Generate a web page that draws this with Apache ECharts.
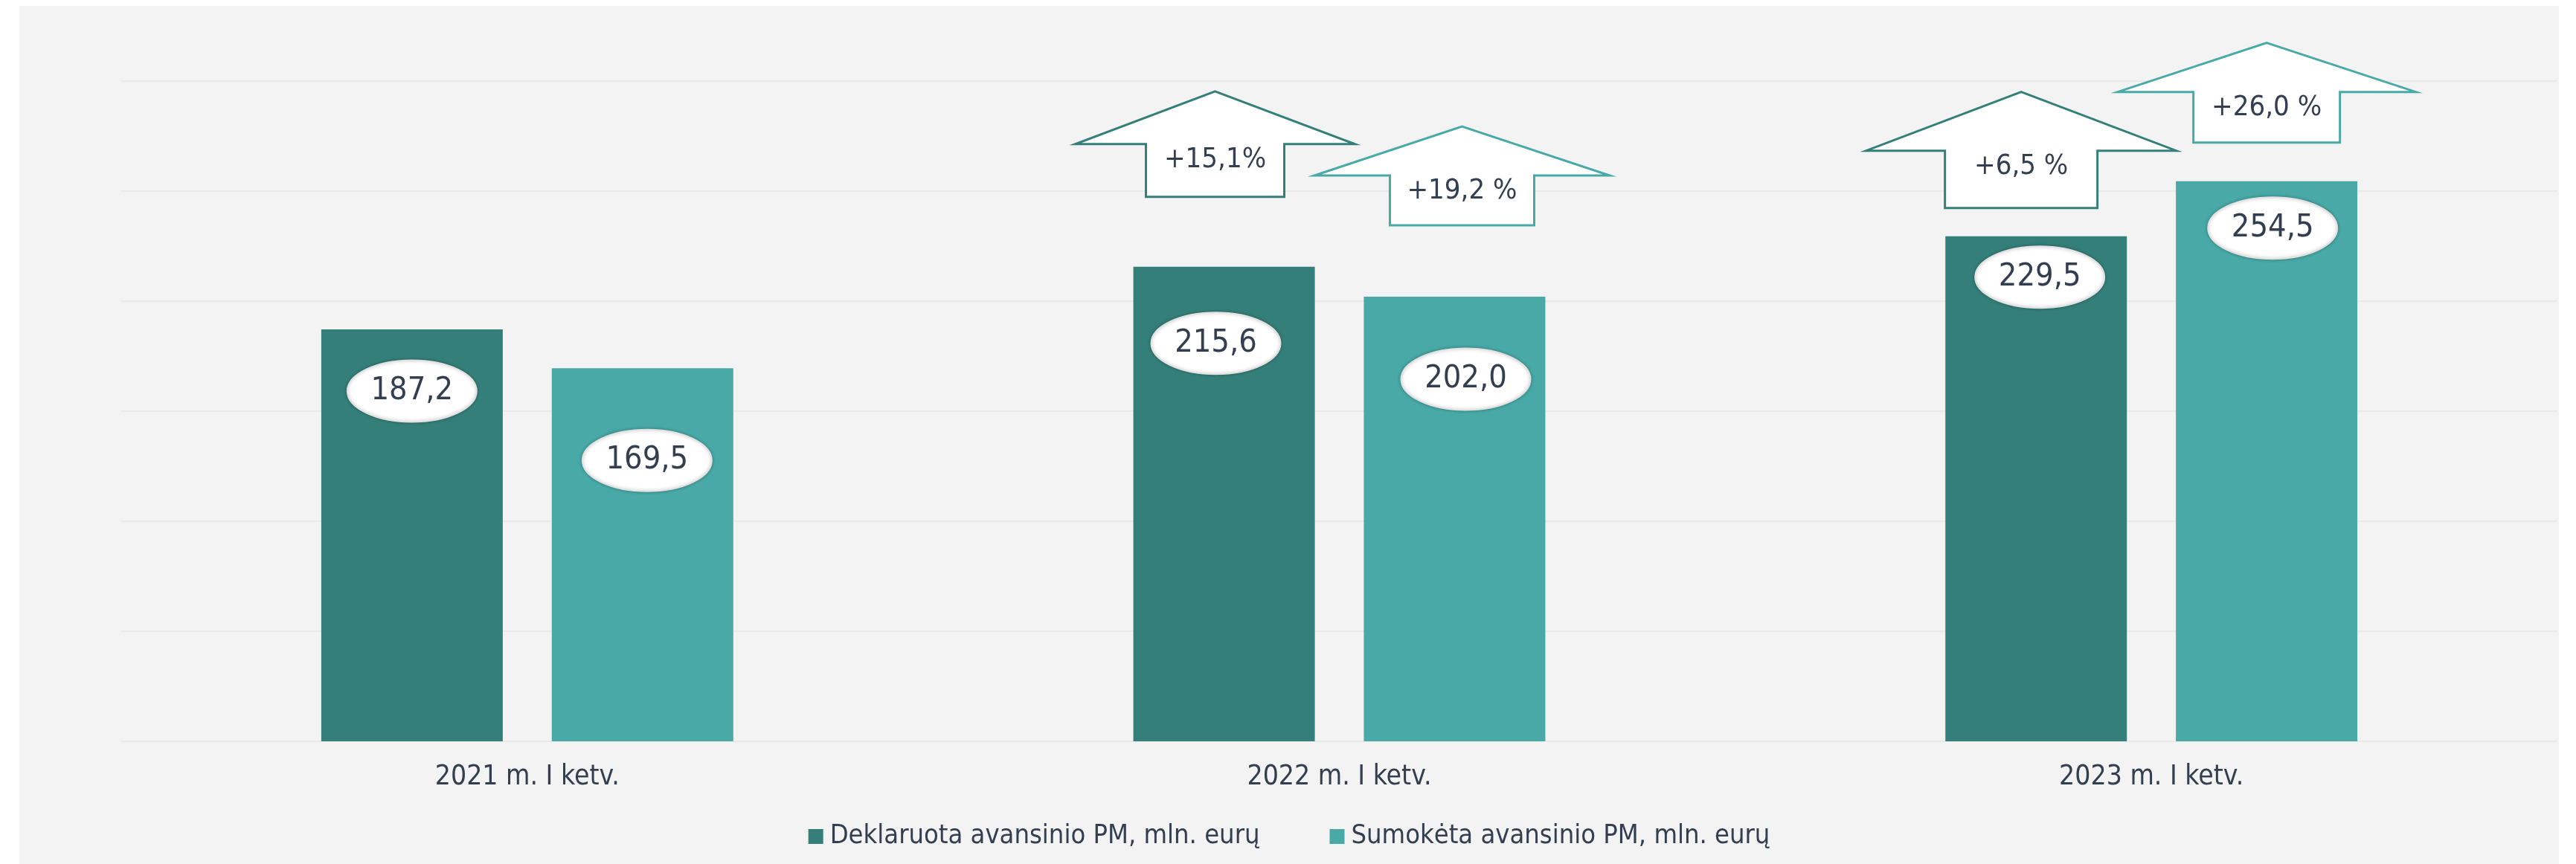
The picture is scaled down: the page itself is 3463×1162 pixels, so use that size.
<!DOCTYPE html>
<html>
<head>
<meta charset="utf-8">
<script src="https://cdn.jsdelivr.net/npm/echarts@6/dist/echarts.min.js"></script>
<style>
  html, body { margin: 0; padding: 0; background: #ffffff; }
  #chart { position: absolute; left: 26px; top: 8px; width: 3414px; height: 1154px; background: #f3f3f3; }
</style>
</head>
<body>
<div id="chart"></div>
<script>
// duomenys
const categories = ["2021 m. I ketv.", "2022 m. I ketv.", "2023 m. I ketv."]
const declared = [187.2, 215.6, 229.5]
const paid = [169.5, 202.0, 254.5]
const declaredGrowth = [null, "+15,1%", "+6,5 %"]
const paidGrowth = [null, "+19,2 %", "+26,0 %"]
const seriesNames = ["Deklaruota avansinio PM, mln. eurų", "Sumokėta avansinio PM, mln. eurų"]

// spalvos ir išdėstymas
const colors = ["#357f7a", "#48a9a7"]
const textColor = "#333f50"
const font = "'DejaVu Sans Condensed', 'DejaVu Sans', sans-serif"
const BAR_W = 244
const BAR_GAP = 66
// elipsės centras nuo stulpelio viršaus: [dx, dy]
const labelShift = [
  [[0, 83], [-11, 103], [5, 55]],
  [[6, 124], [15, 111], [8, 63]],
]
// rodyklės: [dx, pakilimas virš stulpelio, plotis, smaigalio aukštis, koto aukštis, koto plotis]
const arrowShape = [
  [null, [-12, 94, 376, 71, 71, 186], [-20, 38, 417, 79, 77, 205]],
  [null, [10, 96, 397, 66, 67, 194], [0, 52, 401, 66, 68, 197]],
]

const fmt = (v) => v.toFixed(1).replace(".", ",")

function barCenter(api, s) {
  const p = api.coord([api.value(0), api.value(1)])
  const off = (BAR_W + BAR_GAP) / 2
  return [p[0] + (s === 0 ? -off : off), p[1]]
}

// elipsė su reikšme
function ellipseSeries(s, values) {
  return {
    type: "custom",
    name: "lbl" + s,
    coordinateSystem: "cartesian2d",
    clip: false,
    z: 5,
    encode: { x: 0, y: 1 },
    data: values.map((v, i) => [i, v]),
    renderItem(params, api) {
      const i = api.value(0)
      const c = barCenter(api, s)
      const sh = labelShift[s][i]
      const x = c[0] + sh[0]
      const y = c[1] + sh[1]
      return {
        type: "group",
        children: [
          {
            type: "ellipse",
            shape: { cx: x, cy: y, rx: 87, ry: 41.5 },
            style: {
              fill: "#ffffff",
              stroke: "#e2e2e2",
              lineWidth: 2,
              shadowBlur: 4,
              shadowColor: "rgba(0,0,0,0.25)",
            },
          },
          {
            type: "text",
            x: x,
            y: y,
            style: {
              text: fmt(api.value(1)),
              fill: textColor,
              font: "43px " + font,
              align: "center",
              verticalAlign: "middle",
            },
          },
        ],
      }
    },
  }
}

// rodyklė su pokyčiu
function arrowSeries(s, values, growth) {
  return {
    type: "custom",
    name: "arr" + s,
    coordinateSystem: "cartesian2d",
    clip: false,
    z: 6,
    encode: { x: 0, y: 1 },
    data: values.map((v, i) => [i, v]).filter((d) => growth[d[0]]),
    renderItem(params, api) {
      const i = api.value(0)
      const c = barCenter(api, s)
      const a = arrowShape[s][i]
      const x = c[0] + a[0]
      const b = c[1] - a[1]
      const w = a[2] / 2
      const sw = a[5] / 2
      const hb = b - a[4]
      const tip = hb - a[3]
      return {
        type: "group",
        children: [
          {
            type: "polygon",
            shape: {
              points: [
                [x, tip], [x + w, hb], [x + sw, hb], [x + sw, b],
                [x - sw, b], [x - sw, hb], [x - w, hb],
              ],
            },
            style: { fill: "#ffffff", stroke: colors[s], lineWidth: 3 },
          },
          {
            type: "text",
            x: x,
            y: hb + 21,
            style: {
              text: growth[i],
              fill: textColor,
              font: "38px " + font,
              align: "center",
              verticalAlign: "middle",
            },
          },
        ],
      }
    },
  }
}

const myChart = echarts.init(document.getElementById("chart"))
const option = {
  animation: false,
  textStyle: { fontFamily: font },
  grid: { left: 137, right: 2, top: 101, bottom: 165 },
  legend: {
    data: seriesNames,
    left: "center",
    top: 1094,
    itemWidth: 20,
    itemHeight: 20,
    itemGap: 94,
    icon: "rect",
    textStyle: { color: textColor, fontSize: 36, lineHeight: 36, padding: [0, 0, 0, 4] },
  },
  xAxis: {
    type: "category",
    data: categories,
    axisLine: { show: false },
    axisTick: { show: false },
    axisLabel: { color: textColor, fontSize: 37, margin: 30 },
  },
  yAxis: {
    type: "value",
    min: 0,
    max: 300,
    interval: 50,
    axisLabel: { show: false },
    axisLine: { show: false },
    axisTick: { show: false },
    splitLine: { lineStyle: { color: "#e9e9e9", width: 2 } },
  },
  series: [
    {
      name: seriesNames[0],
      type: "bar",
      data: declared,
      barWidth: BAR_W,
      barGap: (BAR_GAP / BAR_W * 100).toFixed(1) + "%",
      itemStyle: { color: colors[0] },
    },
    {
      name: seriesNames[1],
      type: "bar",
      data: paid,
      barWidth: BAR_W,
      itemStyle: { color: colors[1] },
    },
    ellipseSeries(0, declared),
    ellipseSeries(1, paid),
    arrowSeries(0, declared, declaredGrowth),
    arrowSeries(1, paid, paidGrowth),
  ],
}
myChart.setOption(option)
</script>
</body>
</html>
